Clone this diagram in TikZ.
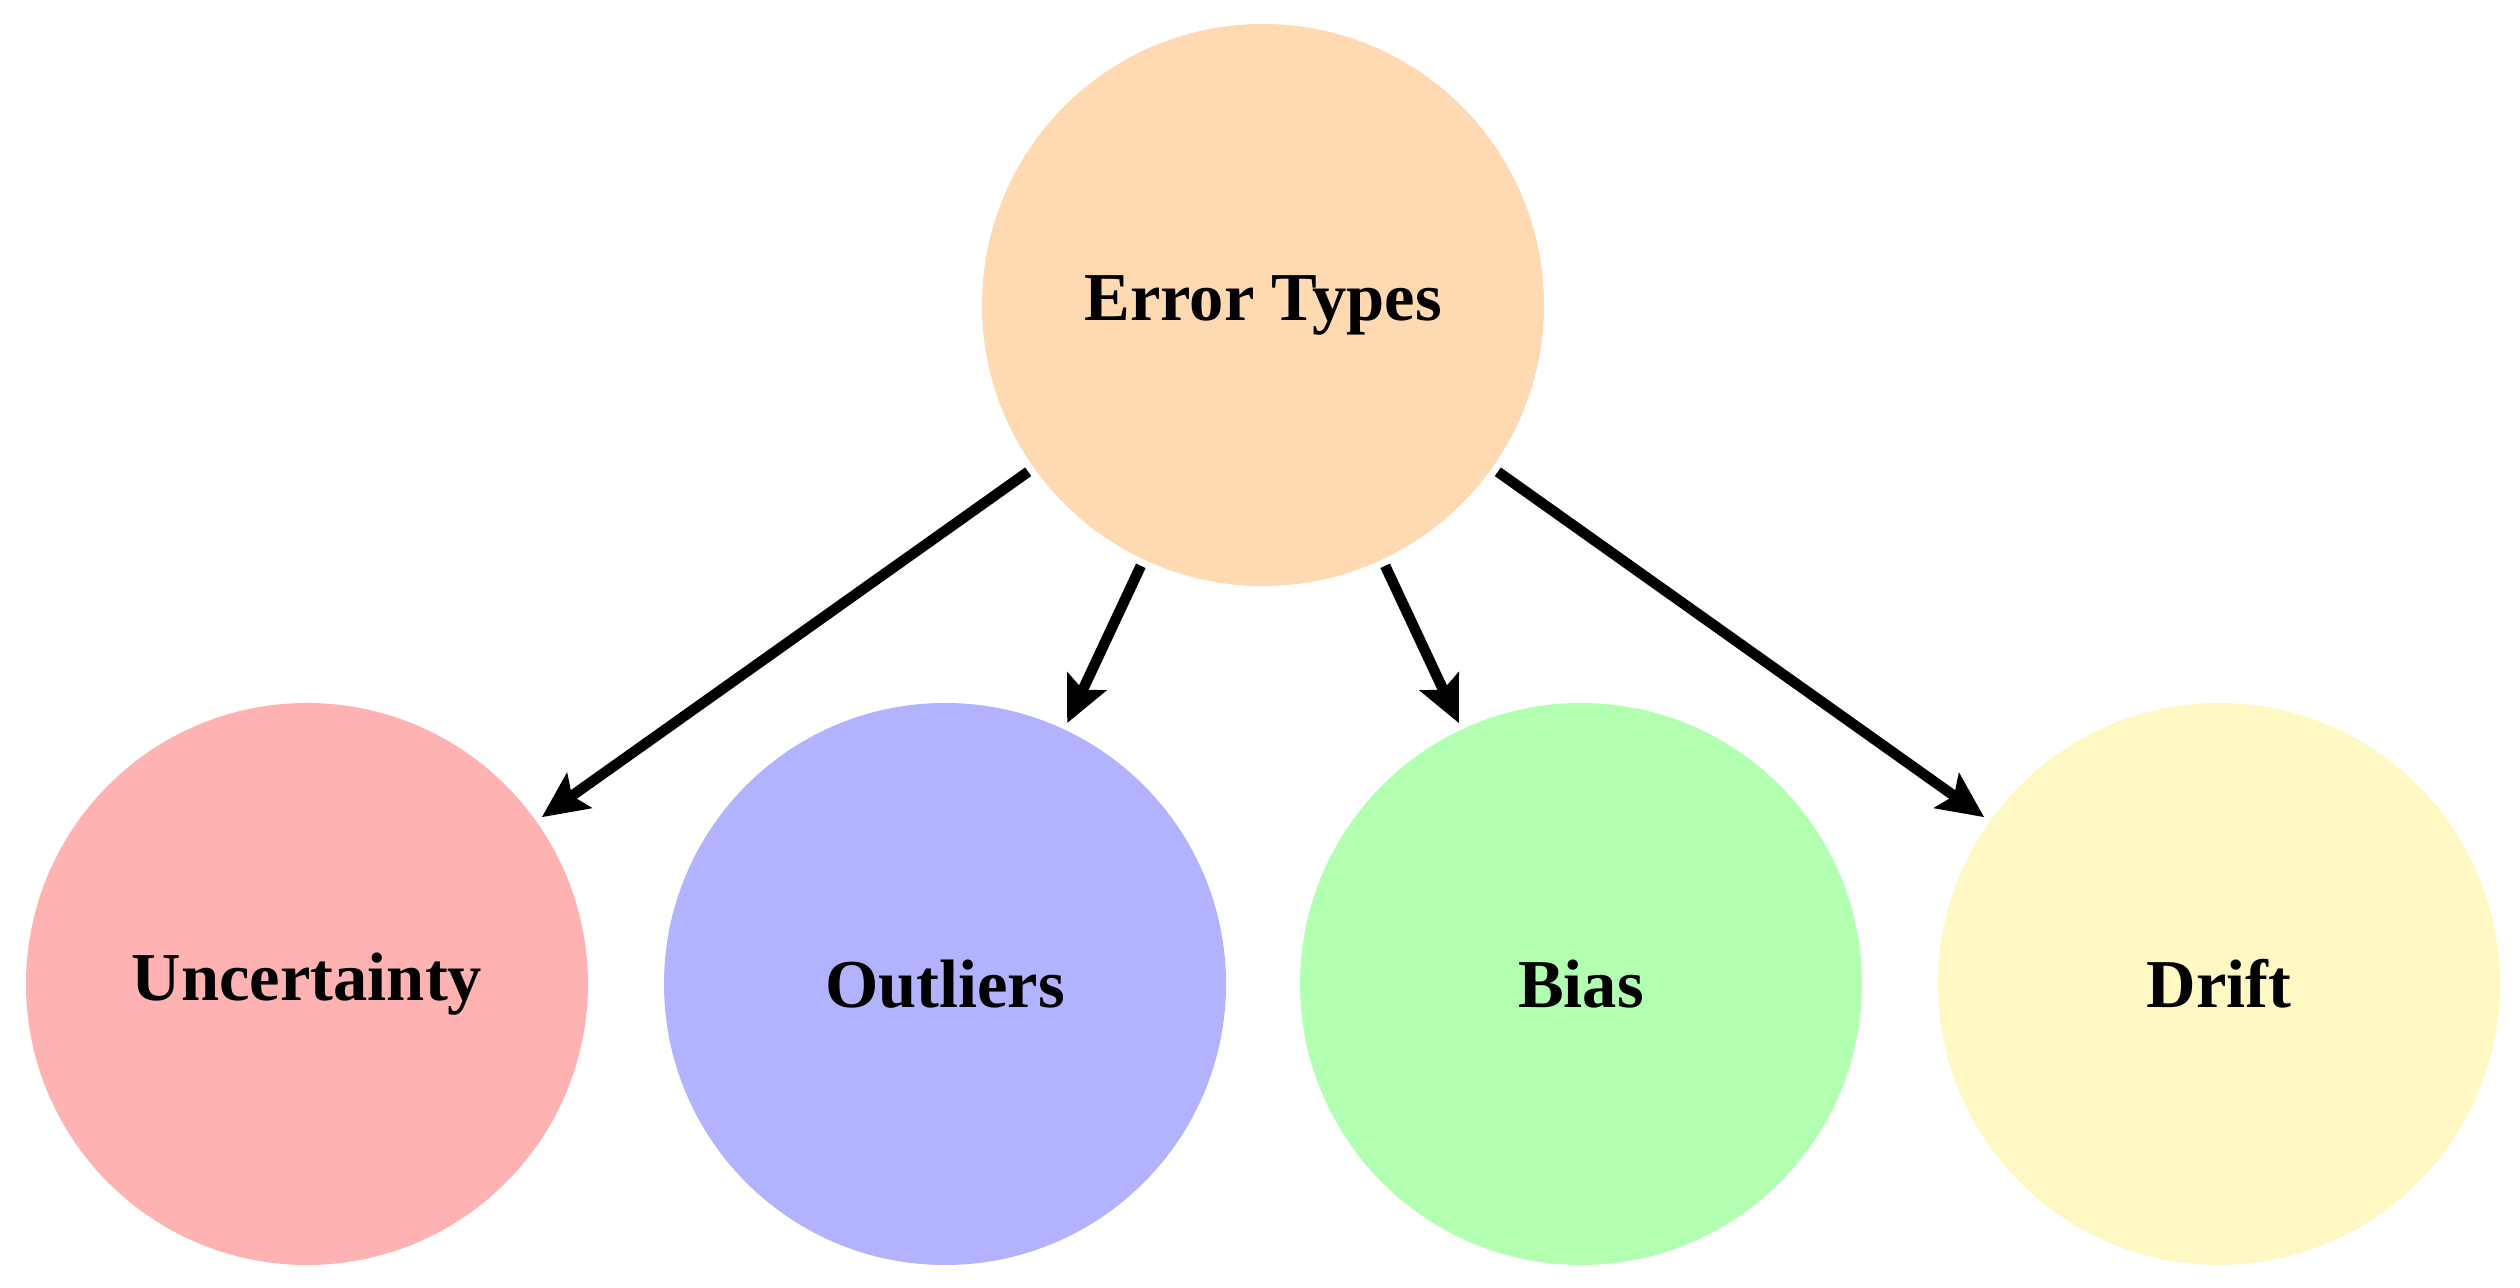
\documentclass[tikz,border=0pt]{standalone}
\usepackage{fontspec}
\setmainfont{Liberation Serif}
\usetikzlibrary{arrows.meta}
\definecolor{peach}{rgb}{1,.85,.7}
\definecolor{rose}{rgb}{1,.7,.7}
\definecolor{lilac}{rgb}{.7,.7,1}
\definecolor{mint}{rgb}{.7,1,.7}
\definecolor{cream}{rgb}{1,.97,.77}

\begin{document}
\begin{tikzpicture}[font=\bfseries\fontsize{19.5}{24}\selectfont,>={Stealth[length=13pt,width=12pt,inset=2.5pt]},
  bubble/.style={circle,minimum size=5.62cm,inner sep=0pt,outer sep=2pt},
  link/.style={->,line width=3pt,black}]
  \useasboundingbox (0,0) rectangle (25.2,12.88);
  \node[bubble,fill=peach] (err) at (12.63,9.83) {Error Types};
  \node[bubble,fill=rose] (unc) at (3.07,3.04) {Uncertainty};
  \node[bubble,fill=lilac] (outl) at (9.45,3.04) {Outliers};
  \node[bubble,fill=mint] (bias) at (15.81,3.04) {Bias};
  \node[bubble,fill=cream] (drift) at (22.19,3.04) {Drift};
  \draw[link] (err)--(unc);
  \draw[link] (err)--(outl);
  \draw[link] (err)--(bias);
  \draw[link] (err)--(drift);
\end{tikzpicture}
\end{document}
